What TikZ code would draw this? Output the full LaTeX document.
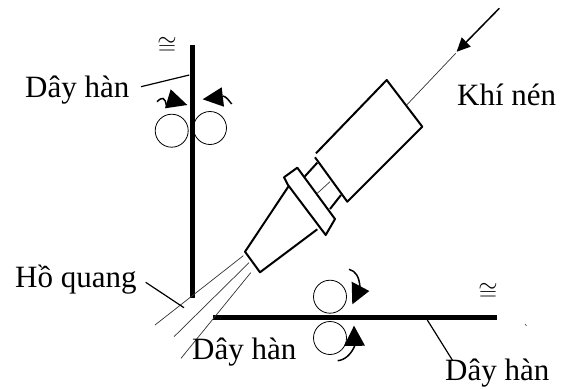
\documentclass[tikz,border=0pt]{standalone}
\usepackage{fontspec}
\setmainfont{Liberation Serif}
\tikzset{
  wire/.style={line width=5pt,line cap=butt},
  torch/.style={line width=2pt,line join=round},
  thinln/.style={line width=0.7pt,draw=black!80},
  leader/.style={line width=1.2pt},
  roller/.style={circle,draw,line width=0.8pt,inner sep=0pt,minimum size=33pt},
  tail/.style={line width=1.5pt},
  lbl/.style={anchor=base west,inner sep=0pt,font=\fontsize{31}{31}\selectfont},
  cng/.style={inner sep=0pt,font=\fontsize{24}{24}\selectfont}
}
\begin{document}
\begin{tikzpicture}[x=1pt,y=-1pt]
\useasboundingbox (0,0) rectangle (561,388);
% wires
\coordinate (vt) at (192.5,45); \coordinate (vb) at (192.5,298);
\coordinate (hl) at (213,317); \coordinate (hr) at (497,317);
\draw[wire] (vt) -- (vb);
\draw[wire] (hl) -- (hr);
\node[cng] (c1) at (167,46) {$\cong$};
\node[cng] (c2) at (488,292) {$\cong$};
% rollers
\node[roller] (r1) at (171.7,130.7) {};
\node[roller] (r2) at (210,128) {};
\node[roller] (r3) at (330,296.7) {};
\node[roller] (r4) at (330,338) {};
% roller arrows
\fill (170.7,89.3) -- (187.3,105) -- (165,108.3) -- cycle;
\draw[tail] (166.7,107) .. controls (165,96) and (162,97) .. (157,101.7);
\fill (202.7,99.3) -- (221.7,87.3) -- (224,106.7) -- cycle;
\draw[tail] (223,96) .. controls (227,97) and (229,101) .. (231.7,104);
\fill (351.7,281.7) -- (369.3,291) -- (352.3,304.3) -- cycle;
\draw[tail] (349,269.3) .. controls (356,271) and (359,277) .. (360,286.7);
\fill (354,325.7) -- (365,345.7) -- (344,346) -- cycle;
\draw[tail] (337.7,360.7) .. controls (345,360) and (352,354) .. (355.7,343.3);
% torch
\draw[torch] (316,153.3) -- (386.7,80) -- (422.3,126.7) -- (347.3,201.7) -- (315,157.3);
\draw[torch] (317.3,162.7) -- (304,177.3);
\draw[torch] (341,195) -- (330,209);
\draw[torch] (288,185) -- (284,177.3) -- (297.3,167.7) -- (335,219) -- (325.7,235) -- cycle;
\draw[torch] (288.3,186.7) -- (245,251.7) -- (260,272.3) -- (317.3,229.3);
% axis
\draw[thinln] (330,181.7) -- (317.3,193.3);
\draw[thinln] (455.7,53.3) -- (406.7,105);
\coordinate (at) at (499.3,8.3); \coordinate (ah) at (458,50.5);
\draw[line width=1.5pt] (at) -- (ah);
\fill (456.7,51.7) -- (461.7,37.3) -- (470.7,46.7) -- cycle;
% arc
\draw[thinln] (243.3,255.7) -- (155,325);
\draw[thinln] (249,262.7) -- (174,336.7);
\draw[thinln] (250.7,272.7) -- (181,358.3);
% small tick
\draw[line width=0.4pt] (525,324) -- (526.5,326);
% labels
\node[lbl] (l1) at (25,97) {Dây hàn};
\node[lbl] (l2) at (15,287) {Hồ quang};
\node[lbl] (l3) at (192,359) {Dây hàn};
\node[lbl] (l4) at (445,380) {Dây hàn};
\node[lbl] (l5) at (457,105) {Khí nén};
% leaders
\coordinate (e1) at (189.3,75); \coordinate (s1) at (141,86.7);
\coordinate (e2) at (184,307.7); \coordinate (s2) at (145.7,282.3);
\coordinate (e4) at (427.3,320); \coordinate (s4) at (452.3,360);
\draw[leader] (s1) -- (e1);
\draw[leader] (s2) -- (e2);
\draw[leader] (s4) -- (e4);
\end{tikzpicture}
\end{document}
